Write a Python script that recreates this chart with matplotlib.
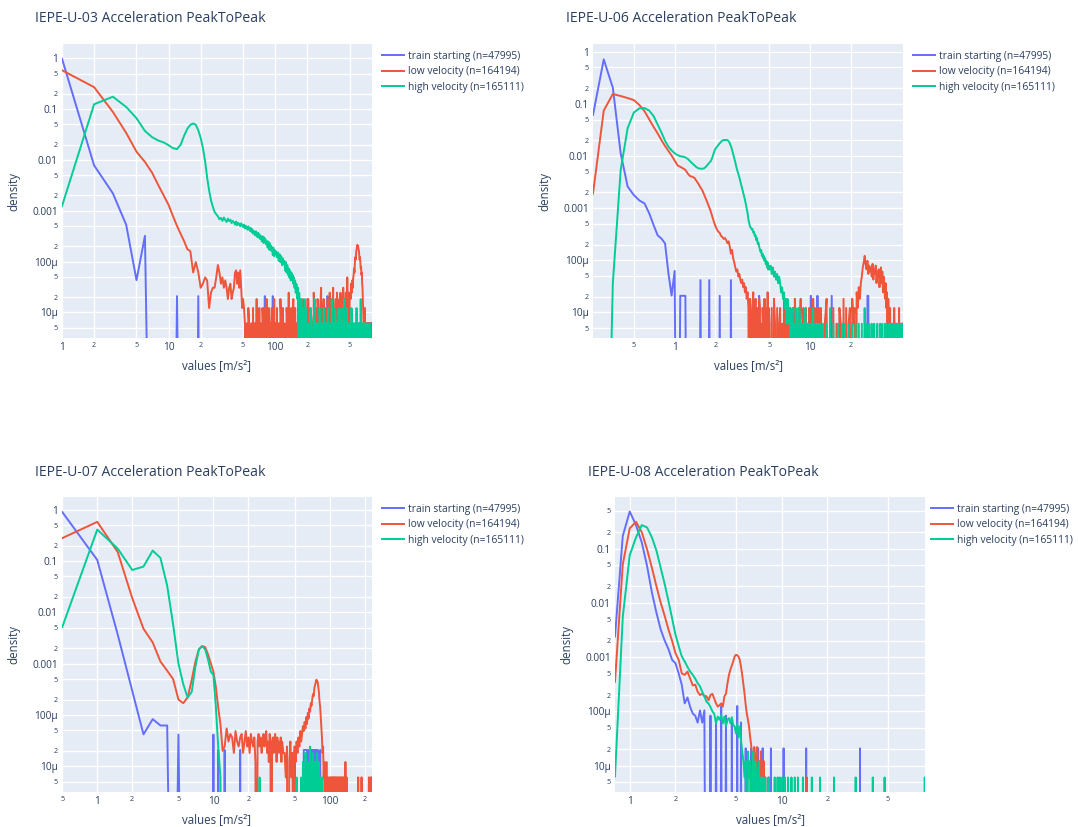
import numpy as np
import matplotlib.pyplot as plt

plt.rcParams['font.family'] = ['Open Sans', 'DejaVu Sans']

TEXT = '#2a3f5f'
BG = '#E5ECF6'
COLORS = ['#636EFA', '#EF553B', '#00CC96']
N = [47995, 164194, 165111]
NAMES = ['train starting', 'low velocity', 'high velocity']
FLOOR = 1e-12  # empty bins: drawn far below the axis, like plotly does

# ---------------- IEPE-U-03 (bins of 1 m/s²) ----------------
u03_x = np.concatenate([np.arange(1, 101), np.arange(102, 201, 2), np.arange(205, 811, 5)])

u03_blue_head = [0.98, 0.0078, 0.0022, 0.00053, 4.3e-5, 3.2e-4]
u03_blue_spikes = {12: 1, 19: 1, 80: 1, 95: 1, 310: 1, 425: 1}

u03_red_head = [0.58, 0.27, 0.088, 0.034, 0.0145, 0.0091, 0.0056, 0.0032, 0.0020, 0.0013,
                0.00078, 0.0005, 0.00035, 0.00025, 0.000175, 0.00016]
u03_red_counts = [
    10, 16, 10, 5, 6, 8, 7, 2, 4, 5, 5, 8, 14, 10, 6, 8, 5, 7, 5, 3, 5, 6, 3, 4, 5, 10, 11, 6, 10, 5, 11, 5, 2, 3,
    2, 1, 0, 1, 0, 2, 1, 0, 0, 1, 0, 2, 0, 1, 1, 0, 3, 0, 1, 0, 2, 0, 1, 0, 0, 2, 1, 0, 2, 0,
    1, 0, 3, 1, 0, 0, 2, 0, 1, 0, 0, 1, 2, 0, 1, 0, 0, 3, 0, 1,
    0, 2, 0, 1, 0, 3, 1, 0, 2, 0, 1, 0, 0, 2, 1, 0, 4, 0, 1, 0, 2, 0, 1, 3, 0, 0, 2, 0, 1, 0,
    0, 3, 1, 0, 2, 0, 1, 0, 2, 0, 3, 0, 1, 0, 2, 1, 0, 2, 0, 3,
    3, 0, 2, 1, 0, 4, 1, 2, 0, 3, 1, 0, 2, 5, 0, 1, 3, 0, 2, 1,
    0, 3, 2, 1, 4, 0, 2, 3, 1, 5, 0, 2, 1, 3, 0, 4, 2, 1, 0, 3,
    2, 4, 1, 0, 3, 2, 5, 1, 3, 0, 2, 4, 1, 3, 8, 2, 1, 4, 0, 3,
    4, 3, 6, 5, 4, 7, 5, 8, 9, 12, 10, 16, 20, 18, 25, 28, 32, 35, 34, 33,
    29, 27, 22, 18, 20, 15, 12, 13, 9, 10, 6, 5, 3, 2, 1, 0, 1, 0, 2, 0,
    1, 0, 0, 1, 0, 1, 0, 0, 1, 0, 0, 1, 0, 1, 0, 0, 1, 0, 1, 0, 0, 1]

u03_green_head = [0.00123, 0.124, 0.175, 0.11, 0.066, 0.037, 0.028, 0.024, 0.022, 0.0194,
                  0.017, 0.0163, 0.02, 0.03, 0.041, 0.049, 0.052, 0.049, 0.038, 0.027,
                  0.017, 0.0095, 0.0045, 0.0025, 0.0016, 0.0012, 0.00095, 0.00085]
u03_green_counts = [
    128, 112, 119, 104, 121, 108, 99, 115, 103, 110, 94, 104,
    98, 88, 101, 85, 95, 90, 82, 93, 84, 79,
    88, 74, 83, 78, 70, 81, 72, 66, 76, 63,
    71, 58, 66, 62, 54, 65, 57, 50, 61, 49,
    57, 46, 53, 49, 41, 52, 45, 38, 49, 40,
    45, 36, 42, 39, 31, 41, 34, 28, 38, 30,
    34, 27, 32, 29, 22, 31, 25, 21, 28, 23,
    26, 20, 25, 17, 23, 16, 21, 14, 19, 15, 17, 11, 16, 10, 14, 9, 12, 8, 11, 7,
    10, 7, 9, 6, 8, 5, 7, 4, 6, 5, 3, 5, 0, 4, 2, 3, 0, 3, 1, 2,
    0, 2, 1, 0, 3, 1, 0, 2, 0, 1,
    1, 0, 2, 1, 0, 1, 3, 0, 1, 1, 0, 2, 1, 0, 1, 0, 2, 1, 0, 1,
    0, 1, 2, 0, 1, 1, 0, 3, 1, 0, 1, 0, 2, 1, 0, 1, 1, 0, 2, 0,
    1, 0, 1, 2, 0, 1, 0, 1, 3, 0, 1, 1, 0, 2, 0, 1, 0, 1, 0, 1,
    0, 1, 0, 2, 1, 0, 1, 0, 1, 0, 0, 1, 0, 1, 0, 2, 0, 1, 0, 1,
    0, 1, 0, 0, 1, 0, 3, 0, 1, 0, 0, 1, 0, 0, 1, 0, 0, 0, 1, 0,
    0, 0, 1, 0, 0, 0, 0, 1, 0, 0, 0, 0, 0, 0, 1, 0, 0, 0, 0, 0, 0, 0]

# ---------------- IEPE-U-06 (bins of 0.05 m/s²) ----------------
u06_x = np.round(np.concatenate([np.arange(5, 100) * 0.05, np.arange(50, 120) * 0.1,
                                 np.arange(30, 121) * 0.4]), 2)

u06_blue_head = [0.061, 0.71, 0.204, 0.0112, 0.0026, 0.00178, 0.0014, 0.00123, 0.00079, 0.00047,
                 0.0003, 0.00026, 0.00021, 5.6e-5, 2.1e-5]
u06_blue_spikes = {1.0: 3, 1.1: 1, 1.15: 1, 1.2: 1, 1.55: 2, 1.8: 2, 2.15: 1, 2.6: 2, 4.2: 1,
                   10.1: 1, 11.3: 1, 14.4: 1, 26.4: 1, 26.8: 1}

u06_red_head = [0.0019, 0.074, 0.154, 0.141, 0.129, 0.118, 0.095, 0.072, 0.05, 0.036,
                0.027, 0.02, 0.0155, 0.0125, 0.0102, 0.0082, 0.0066, 0.0062, 0.0058, 0.0054,
                0.0046, 0.0041, 0.0040, 0.0038, 0.0033, 0.0029, 0.0025, 0.0022, 0.0018, 0.0015,
                0.00125, 0.00103, 0.00085, 0.00068, 0.00054]
u06_red_counts = [
    74, 64, 58, 55, 48, 46, 42, 44, 40, 35,
    38, 30, 22, 26, 18, 15, 12, 10, 11, 8,
    9, 7, 6, 7, 5, 6, 4, 5, 3, 4,
    2, 0, 3, 1, 0, 2, 4, 0, 1, 3,
    0, 2, 1, 0, 3, 2, 0, 1, 0, 2,
    1, 0, 3, 0, 2, 1, 0, 4, 0, 2,
    1, 0, 2, 0, 3, 1, 0, 2, 0, 1,
    2, 0, 1, 0, 3, 0, 1, 2, 0, 1,
    0, 2, 0, 1, 0, 2, 0, 3, 1, 0,
    1, 0, 2, 0, 1, 3, 0, 1, 0, 2,
    0, 1, 0, 2, 0, 1, 0, 0, 2, 1,
    0, 2, 0, 1, 0, 3, 1, 0, 2, 0,
    1, 0, 2, 0, 1, 0, 2, 0, 1, 0,
    2, 0, 1, 3, 0, 1, 0, 2, 0, 1,
    0, 2, 1, 0, 3, 0, 2, 0, 1, 2,
    0, 3, 1, 2, 0, 4, 2, 5, 3, 6,
    8, 12, 15, 20, 14, 11, 16, 9, 13, 10,
    12, 8, 14, 7, 11, 9, 13, 6, 10, 8,
    11, 5, 9, 12, 6, 10, 4, 8, 5, 3,
    6, 2, 4, 0, 3, 1, 0, 2, 0, 1,
    0, 1, 0, 0, 2, 0, 1, 0, 1, 0,
    0, 1, 0, 2, 0, 1, 0, 0, 1, 0, 1]

u06_green_head = [0, 0, 3.6e-5, 0.0054, 0.034, 0.068, 0.082, 0.083, 0.074, 0.058,
                  0.040, 0.028, 0.0195, 0.015, 0.0128, 0.0113, 0.0104, 0.0099, 0.0097, 0.0094,
                  0.0088, 0.0079, 0.0072, 0.0066, 0.0061, 0.0058, 0.0057, 0.0057, 0.0058, 0.0062,
                  0.0068, 0.0074, 0.0080, 0.0095, 0.0118, 0.0138, 0.015, 0.0162, 0.0175, 0.0188,
                  0.0197, 0.0202, 0.0203, 0.0203, 0.0201, 0.0192, 0.0175, 0.0155, 0.0132, 0.011,
                  0.0092, 0.0076, 0.0062, 0.0052, 0.0045, 0.0039, 0.0033, 0.0028, 0.0024, 0.002,
                  0.0017, 0.00145, 0.0012, 0.00098, 0.0008]
u06_green_counts = [
    100, 84, 72, 70, 64, 66, 56, 58, 48, 50, 40, 44, 34, 36, 30, 27, 24, 26, 20, 22,
    18, 20, 16, 18, 14, 16, 12, 15, 11, 13,
    11, 13, 9, 12, 8, 10, 7, 9, 6, 8,
    6, 4, 5, 3, 4, 2, 3, 1, 3, 2,
    1, 2, 0, 1, 2, 0, 1, 0, 2, 1,
    0, 1, 0, 2, 1, 0, 1, 0, 1, 0,
    1, 0, 2, 0, 1, 0, 1, 1, 0, 1,
    0, 1, 0, 1, 0, 2, 0, 1, 0, 1,
    0, 1, 1, 0, 1, 0, 0, 1, 0, 1,
    0, 1, 0, 1, 0, 2, 0, 1, 0, 0,
    1, 0, 0, 1, 0, 1, 0, 0, 1, 0,
    0, 1, 0, 0, 1, 0, 0, 1, 0, 0,
    1, 0, 0, 2, 0, 1, 0, 0, 1, 0,
    0, 1, 0, 0, 1, 0, 0, 0, 1, 0,
    0, 0, 1, 0, 0, 1, 0, 0, 0, 1,
    0, 1, 0, 0, 0, 1, 0, 0, 1, 0,
    0, 0, 1, 0, 0, 0, 1, 0, 0, 0,
    1, 0, 0, 0, 1, 0, 0, 0, 0, 1, 0]

# ---------------- IEPE-U-07 (bins of 0.5 m/s²) ----------------
u07_x = np.concatenate([np.arange(1, 81) * 0.5, np.arange(41, 233)])

u07_blue_head = [0.9, 0.105, 0.0037, 0.0003, 4.2e-5, 8.3e-5, 6.25e-5, 6.25e-5]
u07_blue_spikes = {5.0: 2, 10.0: 2, 11.0: 1, 12.5: 1, 17.0: 1, 50: 1, 60: 1, 61: 1, 62: 1, 63: 1,
                   64: 1, 66: 1, 67: 1, 68: 1, 69: 1, 70: 1, 72: 1, 73: 1, 74: 1, 76: 1, 77: 1,
                   79: 1, 83: 1}

u07_red_head = [0.28, 0.58, 0.15, 0.019, 0.0048, 0.0026, 0.0011, 0.00073, 0.0005, 0.0002,
                0.00017, 0.00022, 0.00048, 0.0011, 0.0019, 0.0022, 0.0021, 0.0015, 0.00102, 0.0007,
                0.00035, 0.00014, 6.6e-5, 2e-5]
u07_red_counts = [
    4, 9, 5, 7, 6, 3, 8, 5, 4, 6,
    7, 3, 5, 8, 4, 6, 3, 7, 5, 4,
    6, 2, 0, 5, 7, 4, 6, 3, 5, 7,
    4, 6, 8, 3, 5, 2, 7, 4, 0, 5,
    6, 3, 5, 7, 4, 2, 6, 3, 5, 4,
    3, 6, 2, 5, 4, 3,
    3, 1, 4, 0, 2, 5, 1, 3, 0, 4,
    2, 5, 3, 6, 4, 8, 5, 7, 10, 8,
    12, 9, 15, 11, 18, 14, 22, 19, 28, 25,
    34, 42, 38, 55, 62, 70, 80, 76, 72, 58,
    45, 30, 24, 15, 9, 6, 3, 4, 1, 2,
    0, 1, 0, 2, 0, 1, 0, 0, 1, 0]
u07_red_spikes = {101: 1, 102: 1, 104: 1, 105: 1, 107: 1, 109: 1, 110: 1, 112: 1, 114: 1, 115: 1,
                  117: 1, 120: 1, 121: 1, 123: 1, 126: 1, 128: 1, 131: 1, 134: 1, 137: 2, 140: 1,
                  176: 1, 177: 1, 188: 1, 189: 1, 218: 1, 219: 1, 226: 1, 231: 1, 232: 1}

u07_green_head = [0.0052, 0.41, 0.175, 0.067, 0.078, 0.16, 0.115, 0.033, 0.0058, 0.001,
                  0.0004, 0.00022, 0.00028, 0.00087, 0.0019, 0.0022, 0.0019, 0.0012, 0.0007, 0.0006,
                  0.000142, 2.4e-5]
u07_green_spikes = {11.5: 1, 25.0: 1, 52: 1, 57: 1, 59: 2, 60: 1, 62: 3, 63: 1, 65: 2, 66: 1,
                    68: 4, 69: 1, 70: 2, 72: 3, 73: 1, 75: 2, 76: 1, 78: 3, 79: 1, 81: 2, 83: 1, 86: 1}

# ---------------- IEPE-U-08 (bins of 0.1 m/s²) ----------------
u08_x = np.round(np.arange(8, 879) * 0.1, 1)

u08_blue_head = [0.0024, 0.17, 0.48, 0.27, 0.13, 0.048, 0.0154, 0.0065, 0.0032, 0.002,
                 0.0014, 0.00089, 0.00077, 0.0005, 0.00031, 0.00014, 0.00018, 0.00012, 9.1e-5, 8.3e-5,
                 6.2e-5, 0.000104, 6.2e-5]
u08_blue_counts = [5, 0, 0, 4, 0, 0, 3, 0, 0, 6,
                   0, 0, 4, 0, 0, 0, 3, 0, 0, 0,
                   6, 0, 0, 3, 0, 0, 0, 1, 0, 0,
                   0, 0, 1, 0, 0, 1, 0, 0, 0, 1,
                   0, 0, 0, 0, 1, 0, 0, 0, 0]
u08_blue_spikes = {8.5: 1, 10.3: 1, 14.5: 1, 32.8: 1}

u08_red_head = [0.00035, 0.051, 0.235, 0.31, 0.2, 0.097, 0.044, 0.02, 0.01, 0.0057,
                0.0032, 0.002, 0.00118, 0.00089, 0.0005, 0.00047, 0.00054, 0.0004, 0.0003, 0.00031,
                0.00023, 0.0002, 0.00021, 0.00019, 0.00019, 0.00016, 0.0002, 0.00021, 0.00017, 0.00014,
                0.000122, 0.00013, 0.00014, 0.000122, 0.00019, 0.00021, 0.00033, 0.00047, 0.00059, 0.0007,
                0.00083, 0.00102, 0.0011, 0.00108, 0.00102, 0.00089, 0.00067, 0.00047, 0.00031, 0.00021,
                0.00013, 9e-5, 7e-5, 5.3e-5, 3.4e-5, 2.4e-5, 1.4e-5, 1.1e-5, 2.2e-5, 7.2e-6,
                1.4e-5, 2.2e-5, 6e-6]
u08_red_counts = [2, 0, 3, 1, 0, 2, 0, 1, 0]
u08_red_spikes = {8.2: 1, 14.6: 1}

u08_green_head = [6.3e-6, 0.0055, 0.075, 0.16, 0.27, 0.245, 0.16, 0.091, 0.044, 0.022,
                  0.0107, 0.0052, 0.0026, 0.0016, 0.00103, 0.00083, 0.00066, 0.00054, 0.00047, 0.0004,
                  0.00033, 0.00029, 0.00023, 0.00019, 0.00015, 0.00014, 0.00012, 0.0001, 9e-5, 6e-5,
                  8e-5, 7e-5, 8.5e-5, 6e-5, 8e-5, 5.3e-5, 7e-5, 7.5e-5, 6e-5, 7.8e-5,
                  5.6e-5, 5.3e-5, 3.9e-5, 6e-5, 3.3e-5, 5.3e-5, 3e-5]
u08_green_counts = [3, 2, 1, 2, 0, 3, 1, 2, 0, 1, 3, 0, 2, 1, 0, 1, 2, 0, 1, 0, 1, 0, 0, 1, 0]
u08_green_spikes = {8.2: 1, 9.0: 1, 9.4: 1, 9.7: 1, 10.1: 1, 10.5: 1, 11.0: 1, 11.6: 1, 12.2: 1,
                    12.8: 1, 13.8: 1, 15.8: 1, 17.9: 1, 22.1: 1, 30.7: 1, 39.8: 1, 47.6: 1, 87.5: 1}


def series(grid, head, counts, spikes, n):
    # densities for the smooth head, raw bin counts for the noisy tail
    y = np.zeros(len(grid))
    k = len(head)
    y[:k] = head
    y[k:k + len(counts)] = np.asarray(counts, dtype=float) / n
    for pos, c in spikes.items():
        y[np.argmin(np.abs(grid - pos))] = c / n
    return np.where(y > 0, y, FLOOR)


def major_label(v):
    if v >= 1:
        return f"{v:g}"
    if v >= 1e-3:
        return f"{v:.{int(round(-np.log10(v)))}f}"
    return f"{v * 1e6:g}µ"


def minor_label(v):
    return str(int(round(v / 10 ** np.floor(np.log10(v) + 1e-9))))


panels = [
    dict(title='IEPE-U-03 Acceleration PeakToPeak', x=u03_x, box=(62, 44, 372, 338),
         xlim=(1, 810), ylim=(10 ** -5.505, 10 ** 0.28), legend_x=1.032,
         xmajor=[1, 10, 100], xminor=[2, 5, 20, 50, 200, 500],
         data=[(u03_blue_head, [], u03_blue_spikes),
               (u03_red_head, u03_red_counts, {}),
               (u03_green_head, u03_green_counts, {})]),
    dict(title='IEPE-U-06 Acceleration PeakToPeak', x=u06_x, box=(593, 44, 903, 338),
         xlim=(0.25, 48.3), ylim=(10 ** -5.49, 10 ** 0.147), legend_x=1.032,
         xmajor=[1, 10], xminor=[0.5, 2, 5, 20],
         data=[(u06_blue_head, [], u06_blue_spikes),
               (u06_red_head, u06_red_counts, {}),
               (u06_green_head, u06_green_counts, {})]),
    dict(title='IEPE-U-07 Acceleration PeakToPeak', x=u07_x, box=(62, 497, 372, 792),
         xlim=(0.497, 232), ylim=(10 ** -5.50, 10 ** 0.248), legend_x=1.032,
         xmajor=[1, 10, 100], xminor=[0.5, 2, 5, 20, 50, 200],
         data=[(u07_blue_head, [], u07_blue_spikes),
               (u07_red_head, u07_red_counts, u07_red_spikes),
               (u07_green_head, [], u07_green_spikes)]),
    dict(title='IEPE-U-08 Acceleration PeakToPeak', x=u08_x, box=(615, 497, 925, 792),
         xlim=(0.8, 87.8), ylim=(10 ** -5.486, 10 ** -0.051), legend_x=1.02,
         xmajor=[1, 10], xminor=[2, 5, 20, 50],
         data=[(u08_blue_head, u08_blue_counts, u08_blue_spikes),
               (u08_red_head, u08_red_counts, u08_red_spikes),
               (u08_green_head, u08_green_counts, u08_green_spikes)]),
]

W, H = 1078, 827
fig = plt.figure(figsize=(W / 100, H / 100), dpi=100)

for p in panels:
    x0, y0, x1, y1 = p['box']
    ax = fig.add_axes([x0 / W, 1 - y1 / H, (x1 - x0) / W, (y1 - y0) / H])
    ax.set_facecolor(BG)
    for s in ax.spines.values():
        s.set_visible(False)

    for (head, counts, spikes), color, n, name in zip(p['data'], COLORS, N, NAMES):
        y = series(p['x'], head, counts, spikes, n)
        ax.plot(p['x'], y, color=color, lw=1.4, label=f"{name} (n={n})")

    ax.set_xscale('log')
    ax.set_yscale('log')
    ax.set_xlim(p['xlim'])
    ax.set_ylim(p['ylim'])

    lo, hi = np.log10(p['ylim'])
    ymajor = [10.0 ** e for e in range(int(np.ceil(lo)), int(np.floor(hi)) + 1)]
    yminor = [m * 10.0 ** e for e in range(int(np.floor(lo)), int(np.ceil(hi)))
              for m in (2, 5) if lo <= np.log10(m * 10.0 ** e) <= hi]
    ax.set_yticks(ymajor, [major_label(v) for v in ymajor])
    ax.set_yticks(yminor, [minor_label(v) for v in yminor], minor=True)
    ax.set_xticks(p['xmajor'], [major_label(v) for v in p['xmajor']])
    ax.set_xticks(p['xminor'], [minor_label(v) for v in p['xminor']], minor=True)

    ax.grid(True, which='both', color='white', lw=1)
    ax.set_axisbelow(True)
    ax.tick_params(which='both', length=0, colors=TEXT, pad=3)
    ax.tick_params(which='major', labelsize=7.3)
    ax.tick_params(which='minor', labelsize=5.2)

    ax.set_xlabel('values [m/s²]', fontsize=8.3, color=TEXT)
    ax.set_ylabel('density', fontsize=8.3, color=TEXT)
    ax.xaxis.set_label_coords(0.5, -21 / (y1 - y0))
    ax.yaxis.set_label_coords(-42 / (x1 - x0), 0.5)

    fig.text((x0 - 27) / W, 1 - (y0 - 25) / H, p['title'], fontsize=10.1, color=TEXT,
             ha='left', va='center')

    ax.legend(loc='upper left', bbox_to_anchor=(p['legend_x'], 0.976), frameon=False, fontsize=7.4,
              handlelength=2.1, handletextpad=0.45, labelspacing=0.42, borderaxespad=0,
              borderpad=0, labelcolor=TEXT)

fig.savefig('out.png', dpi=100)
